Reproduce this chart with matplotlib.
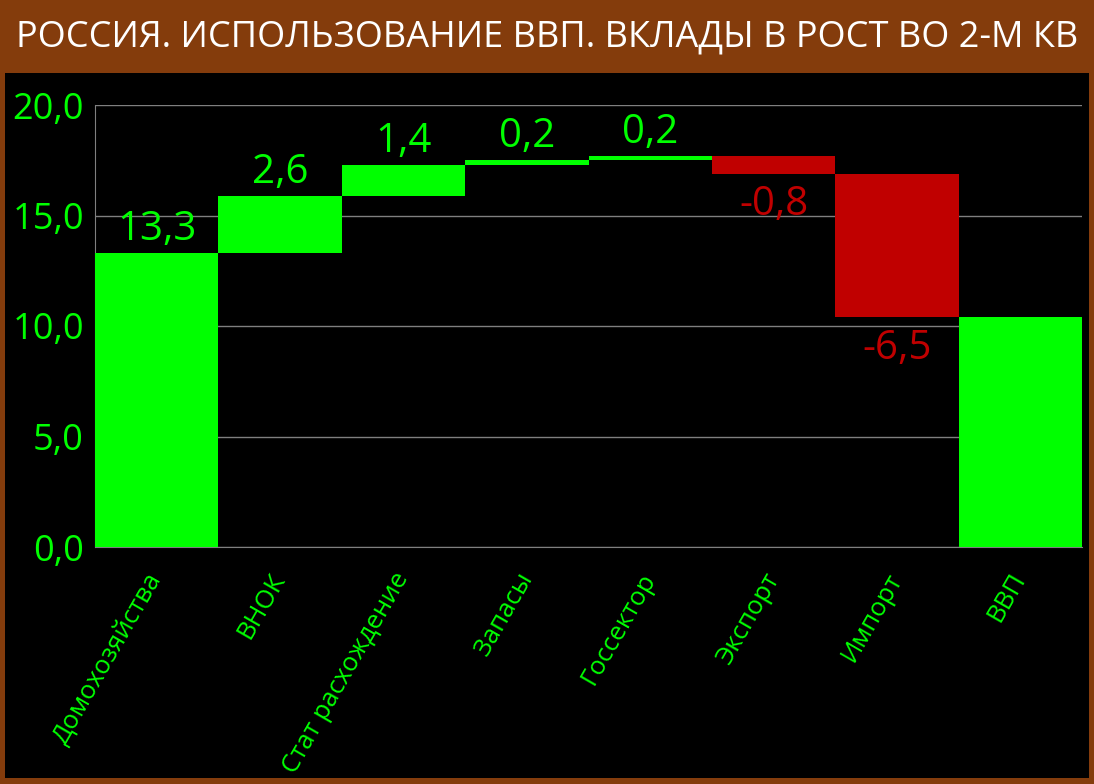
import matplotlib
matplotlib.use("Agg")
import matplotlib.pyplot as plt
from matplotlib.patches import Rectangle
from matplotlib.ticker import FuncFormatter, MultipleLocator
import numpy as np

# данные: вклады в рост ВВП, п.п.
categories = ["Домохозяйства", "ВНОК", "Стат расхождение", "Запасы",
              "Госсектор", "Экспорт", "Импорт", "ВВП"]
contrib = [13.3, 2.6, 1.4, 0.2, 0.2, -0.8, -6.5]
total = 10.4

GREEN = "#00ff00"
RED = "#c00000"
BROWN = "#843c0c"

plt.rcParams["font.family"] = ["Open Sans", "DejaVu Sans"]

fig = plt.figure(figsize=(10.94, 7.84), dpi=100, facecolor=BROWN)
# чёрная подложка внутри коричневой рамки
fig.patches.append(Rectangle((5/1094, 6/784), 1084/1094, 705/784,
                             transform=fig.transFigure, facecolor="black",
                             edgecolor="none", zorder=-5))
fig.text(0.5, 1 - 37/784, "РОССИЯ. ИСПОЛЬЗОВАНИЕ ВВП. ВКЛАДЫ В РОСТ ВО 2-М КВ",
         color="white", fontsize=26, ha="center", va="center")

ax = fig.add_axes([95/1094, 237/784, 987/1094, 442/784])
ax.set_facecolor("black")

vals = contrib + [total]
bottoms = []
run = 0.0
for v in contrib:
    bottoms.append(run if v >= 0 else run + v)
    run += v
bottoms.append(0.0)
heights = [abs(v) for v in vals]
colors = [GREEN if v >= 0 else RED for v in vals]
x = np.arange(len(categories))

ax.bar(x, heights, bottom=bottoms, width=1.0, color=colors, zorder=3)

# подписи значений (у итогового столбца подписи нет)
for xi, v, b, h in zip(x[:-1], contrib, bottoms, heights):
    txt = f"{v:.1f}".replace(".", ",")
    if v >= 0:
        ax.annotate(txt, (xi, b + h), xytext=(0, 2), textcoords="offset points",
                    ha="center", va="bottom", color=GREEN, fontsize=29, zorder=4)
    else:
        ax.annotate(txt, (xi, b), xytext=(0, -8), textcoords="offset points",
                    ha="center", va="top", color=RED, fontsize=29, zorder=4)

ax.set_xlim(-0.5, len(categories) - 0.5)
ax.set_ylim(0, 20)
ax.yaxis.set_major_locator(MultipleLocator(5))
ax.yaxis.set_major_formatter(FuncFormatter(lambda v, p: f"{v:.1f}".replace(".", ",")))
ax.grid(axis="y", color="#7f7f7f", linewidth=1, zorder=1)
ax.set_xticks(x)
ax.set_xticklabels(categories, rotation=60, ha="right", va="center",
                   rotation_mode="anchor", color=GREEN, fontsize=18.5)
ax.tick_params(axis="y", colors=GREEN, labelsize=26, length=0, pad=8)
ax.tick_params(axis="x", length=0, pad=20)
for s in ["top", "right"]:
    ax.spines[s].set_visible(False)
for s in ["left", "bottom"]:
    ax.spines[s].set_color("#7f7f7f")

fig.savefig("out.png", dpi=100, facecolor=BROWN)
